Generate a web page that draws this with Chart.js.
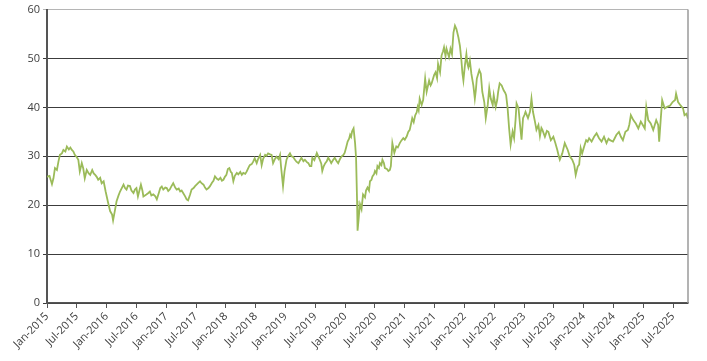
<!DOCTYPE html>
<html>
<head>
<meta charset="utf-8">
<script src="https://cdn.jsdelivr.net/npm/chart.js@4"></script>
<style>
  html, body { margin: 0; padding: 0; background: #fff; }
  canvas { display: block; }
</style>
</head>
<body>
<canvas id="grafico" width="707" height="361"></canvas>
<script>
// Rótulos do eixo X (um a cada 6 meses)
const rotulosX = ['Jan-2015','Jul-2015','Jan-2016','Jul-2016','Jan-2017','Jul-2017','Jan-2018','Jul-2018',
  'Jan-2019','Jul-2019','Jan-2020','Jul-2020','Jan-2021','Jul-2021','Jan-2022','Jul-2022',
  'Jan-2023','Jul-2023','Jan-2024','Jul-2024','Jan-2025','Jul-2025'];

// Meses desde Jan-2015
const meses = [
  0,0.5,1.0,1.3,1.6,2.0,2.3,2.6,3.0,3.3,3.7,4.0,4.4,4.7,5.0,5.3,5.6,6.0,6.3,6.6,7.0,7.3,7.6,8.0,8.4,8.7,9.1,9.4,9.7,10.0,
  10.3,10.7,11.0,11.4,11.8,12.3,12.7,13.1,13.3,13.7,14.0,14.4,14.7,15.1,15.4,15.7,16.0,16.3,16.7,17.0,17.4,17.7,18.0,18.3,
  18.6,18.9,19.2,19.4,19.7,20.0,20.4,20.7,21.0,21.4,21.8,22.1,22.5,22.8,23.1,23.4,23.8,24.1,24.4,24.7,25.0,25.4,
  25.8,26.1,26.5,26.8,27.1,27.4,27.8,28.1,28.4,28.8,29.1,29.5,29.8,30.2,30.5,30.8,31.1,31.5,31.8,32.1,32.5,32.8,33.2,33.5,
  33.8,34.2,34.5,34.9,35.2,35.5,35.8,36.1,36.4,36.7,37.0,37.2,37.5,37.8,38.2,38.5,38.9,39.2,39.5,39.9,40.2,40.5,40.8,41.2,
  41.5,41.8,42.2,42.5,42.9,43.2,43.5,43.9,44.2,44.5,44.9,45.2,45.5,45.9,46.2,46.6,46.9,47.1,47.5,47.8,48.2,48.5,48.9,49.2,
  49.5,49.9,50.2,50.6,
  51.2,51.6,51.9,52.3,52.6,52.9,53.2,53.4,53.8,54.3,54.6,54.9,55.2,55.4,55.7,56.0,56.3,56.6,56.9,57.2,57.6,57.9,58.3,58.6,
  59.0,59.3,59.6,59.9,60.2,60.5,60.8,61.0,61.2,61.4,61.7,62.0,62.2,62.4,62.5,62.7,62.8,63.0,63.3,63.6,64.0,64.2,64.5,64.8,
  65.0,65.3,65.5,65.8,66.0,66.3,66.5,66.8,67.0,67.3,67.5,67.8,68.0,68.4,68.7,69.0,69.2,69.5,69.9,70.3,70.6,71.0,71.3,71.7,
  72.0,72.4,72.7,73.0,73.3,73.5,73.8,74.1,74.4,74.6,74.8,75.0,75.4,75.7,
  76.1,76.4,76.9,77.2,77.4,77.9,78.2,78.5,78.7,79.1,79.4,79.7,79.9,80.2,80.4,80.9,81.2,81.5,81.8,82.1,82.4,82.8,83.1,83.4,
  83.6,83.8,84.1,84.4,84.6,84.8,85.1,85.4,85.8,86.1,86.3,86.5,87.0,87.3,87.6,88.0,88.3,88.7,89.0,89.3,89.7,89.9,90.3,90.6,
  90.8,91.1,91.5,91.9,92.2,92.4,92.7,93.0,93.3,93.7,94.0,94.3,94.5,94.9,95.2,95.5,95.8,96.1,96.3,96.8,97.2,97.5,97.8,98.2,
  98.5,98.9,99.2,99.5,99.7,100.2,100.6,100.9,101.4,101.9,102.3,102.7,103.0,103.2,103.7,104.2,104.5,104.8,105.2,105.7,
  106.1,106.4,106.8,107.1,107.4,107.7,108.1,108.5,108.8,109.1,109.6,110.1,110.6,111.1,111.6,112.1,112.6,113.0,113.3,
  113.9,114.3,114.6,115.1,115.5,115.9,116.4,116.9,117.2,117.5,118.0,118.5,119.0,119.5,119.9,120.3,120.6,121.0,121.5,
  122.0,122.6,123.0,123.2,123.5,123.8,124.3,124.8,125.4,125.9,126.4,126.6,127.0,127.5,128.0,128.3,128.7,129.0
];

// Valores da série
const valores = [
  25.8,26.0,24.3,25.5,27.6,27.2,28.9,30.3,30.6,31.3,31.0,32.0,31.4,31.8,31.3,31.0,30.3,29.8,29.3,26.9,28.6,27.5,25.5,27.2,26.5,26.2,27.2,26.5,26.2,25.8,
  25.2,25.6,24.5,24.9,22.8,20.5,18.8,18.1,16.9,19.1,20.8,22.0,22.8,23.6,24.2,23.5,23.2,24.0,23.9,23.0,22.5,23.2,23.5,21.8,
  23.0,24.2,23.0,21.8,22.0,22.2,22.5,22.8,22.0,22.2,21.8,21.2,22.5,23.5,23.8,23.2,23.6,23.5,22.9,23.2,23.8,24.5,
  23.6,23.2,23.4,22.8,23.0,22.5,21.8,21.2,21.0,22.2,23.2,23.5,23.9,24.3,24.6,24.9,24.5,24.2,23.6,23.2,23.5,23.9,24.6,25.0,
  25.9,25.4,25.2,25.6,25.0,25.2,25.8,26.2,27.4,27.6,26.8,26.6,24.9,26.0,26.6,26.3,26.8,26.2,26.6,26.4,26.9,27.6,28.2,28.4,
  28.9,29.6,28.6,29.5,30.3,28.2,29.5,30.3,30.1,30.6,30.4,30.3,28.6,29.5,29.9,29.4,30.3,27.9,23.9,26.9,29.3,30.0,30.6,30.0,
  29.9,29.3,28.9,28.6,
  29.7,29.0,29.3,28.8,28.6,28.0,28.0,29.7,29.2,30.7,30.0,29.3,28.5,27.0,28.0,28.6,29.0,29.7,29.2,28.6,29.3,29.7,29.0,28.6,
  29.5,30.0,30.2,30.7,31.8,33.0,33.6,34.4,34.0,35.1,35.7,32.7,29.7,20.9,14.8,17.0,18.2,20.2,19.2,22.2,21.6,23.0,23.6,23.0,
  24.9,25.2,25.9,26.3,27.0,26.5,28.0,27.6,28.6,28.2,29.3,28.6,27.6,27.4,27.0,27.2,28.0,32.7,30.7,32.0,31.8,32.7,33.2,33.7,
  33.4,34.1,35.0,35.4,36.8,37.8,37.0,38.4,39.0,40.1,39.4,41.8,40.5,41.5,
  45.9,43.2,45.5,44.5,44.9,46.6,47.2,46.0,48.9,47.2,50.6,51.5,52.3,50.5,52.0,50.3,52.0,50.9,55.3,56.7,56.0,54.3,52.6,49.6,
  47.0,45.5,48.6,50.9,49.0,48.2,49.6,46.9,44.5,41.8,43.5,45.9,47.6,46.9,43.2,41.1,37.8,40.5,43.9,41.8,40.5,42.5,40.1,41.5,
  43.2,44.9,44.5,43.5,43.0,42.5,39.8,35.7,32.4,35.1,33.7,37.5,40.8,39.8,36.4,33.4,37.8,38.5,39.1,37.8,39.1,41.8,39.1,37.1,
  35.4,36.4,34.1,35.8,35.4,34.0,35.2,35.0,33.3,34.0,32.7,31.3,30.0,29.3,30.6,32.7,32.0,31.3,30.0,29.3,
  28.3,26.2,27.9,28.3,31.7,30.6,32.0,33.3,33.0,33.7,33.0,34.0,34.7,33.7,33.0,34.0,32.7,33.6,33.3,
  33.0,33.8,34.4,35.0,34.0,33.3,35.0,35.4,36.5,38.4,37.4,36.7,35.7,37.1,36.4,35.7,40.1,37.4,36.7,
  35.4,37.4,36.4,33.0,37.4,41.5,39.8,40.1,40.4,41.1,41.5,42.8,41.1,40.4,39.8,38.4,38.7,37.7
];

const pontos = meses.map((m, i) => ({ x: m, y: valores[i] }));

// Moldura direita cinza
const molduraDireita = {
  id: 'molduraDireita',
  afterDraw(chart) {
    const { ctx, chartArea } = chart;
    ctx.save();
    ctx.strokeStyle = '#9a9a9a';
    ctx.lineWidth = 1.5;
    ctx.beginPath();
    ctx.moveTo(chartArea.right, chartArea.top);
    ctx.lineTo(chartArea.right, chartArea.bottom);
    ctx.stroke();
    ctx.restore();
  }
};

const fonteEixo = { family: '"Open Sans", sans-serif', size: 11 };

new Chart(document.getElementById('grafico').getContext('2d'), {
  type: 'line',
  data: {
    datasets: [{
      data: pontos,
      borderColor: '#9bbb59',
      borderWidth: 1.8,
      pointRadius: 0,
      tension: 0,
      fill: false
    }]
  },
  options: {
    responsive: false,
    animation: false,
    devicePixelRatio: 1,
    layout: { padding: { left: 0, right: 19, top: 7, bottom: 0 } },
    plugins: { legend: { display: false }, tooltip: { enabled: false } },
    scales: {
      x: {
        type: 'linear',
        min: 0,
        max: 129,
        // um tick a cada 6 meses, sem o tick extra no máximo
        afterBuildTicks: (scale) => { scale.ticks = rotulosX.map((_, i) => ({ value: i * 6 })); },
        afterFit: (scale) => { scale.height = 58; },
        ticks: {
          autoSkip: false,
          maxRotation: 45,
          minRotation: 45,
          color: '#404040',
          font: fonteEixo,
          padding: 2,
          callback: (v) => rotulosX[Math.round(v / 6)] ?? ''
        },
        grid: { drawOnChartArea: false, drawTicks: true, tickLength: 5, color: '#555', lineWidth: 1 },
        border: { display: true, color: '#555', width: 1.5 }
      },
      y: {
        min: 0,
        max: 60,
        afterFit: (scale) => { scale.width = 47; },
        ticks: { stepSize: 10, color: '#404040', font: fonteEixo, padding: 3 },
        grid: {
          color: (c) => (c.tick && c.tick.value === 60 ? '#b5b5b5' : '#3c3c3c'),
          lineWidth: 1,
          tickLength: 4
        },
        border: { display: true, color: '#555', width: 2 }
      }
    }
  },
  plugins: [molduraDireita]
});
</script>
</body>
</html>
